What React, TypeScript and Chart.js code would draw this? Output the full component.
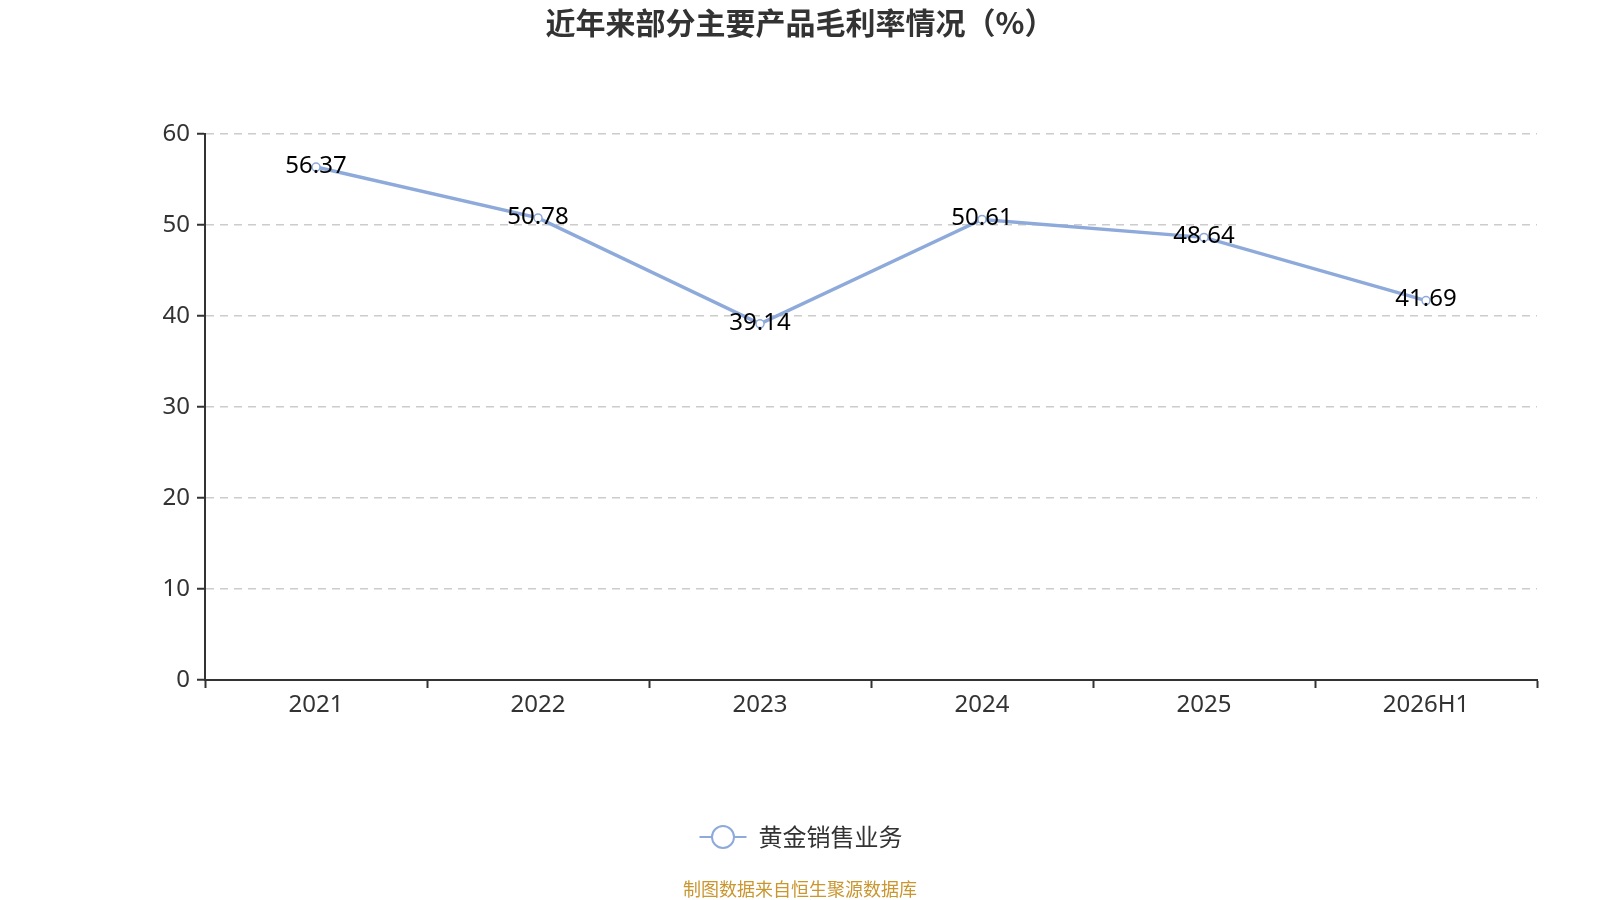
import { useRef, useEffect } from "react";
import { Chart, Plugin } from "chart.js/auto";


const years = ["2021", "2022", "2023", "2024", "2025", "2026H1"];
const goldSales = [56.37, 50.78, 39.14, 50.61, 48.64, 41.69];
const seriesName = "黄金销售业务";
const titleText = "近年来部分主要产品毛利率情况（%）";
const sourceText = "制图数据来自恒生聚源数据库";

const LINE_COLOR = "#8eaadb";
const TEXT_COLOR = "#333333";
const FONT = "'Noto Sans', 'Noto Sans CJK SC', sans-serif";
const CJK_FONT = "'Noto Sans CJK SC', 'Noto Sans', sans-serif";


// value labels centred on each point
const valueLabels: Plugin<"line"> = {
  id: "valueLabels",
  afterDatasetsDraw(chart) {
    const { ctx } = chart;
    const meta = chart.getDatasetMeta(0);
    const data = chart.data.datasets[0].data as number[];
    ctx.save();
    ctx.font = `24px ${FONT}`;
    ctx.fillStyle = "#000";
    ctx.textAlign = "center";
    ctx.textBaseline = "middle";
    meta.data.forEach((pt, i) => {
      ctx.fillText(data[i].toFixed(2), pt.x, pt.y - 1);
    });
    ctx.restore();
  }
};

// title, legend and source line
const decorations: Plugin<"line"> = {
  id: "decorations",
  afterDraw(chart) {
    const { ctx, width } = chart;
    const cx = width / 2;
    ctx.save();

    ctx.font = `bold 30px ${CJK_FONT}`;
    ctx.fillStyle = TEXT_COLOR;
    ctx.textAlign = "center";
    ctx.textBaseline = "middle";
    ctx.fillText(titleText, cx, 23);

    // legend
    const label = chart.data.datasets[0].label ?? "";
    ctx.font = `24px ${CJK_FONT}`;
    const textW = ctx.measureText(label).width;
    const iconW = 47;
    const gap = 12;
    const start = cx + 1 - (iconW + gap + textW) / 2;
    const ly = 837;
    ctx.strokeStyle = LINE_COLOR;
    ctx.lineWidth = 2;
    ctx.beginPath();
    ctx.moveTo(start, ly);
    ctx.lineTo(start + iconW, ly);
    ctx.stroke();
    ctx.beginPath();
    ctx.arc(start + iconW / 2, ly, 11, 0, Math.PI * 2);
    ctx.fillStyle = "#fff";
    ctx.fill();
    ctx.stroke();
    ctx.fillStyle = TEXT_COLOR;
    ctx.textAlign = "left";
    ctx.fillText(label, start + iconW + gap, ly);

    ctx.font = `18px ${CJK_FONT}`;
    ctx.fillStyle = "#c9962f";
    ctx.textAlign = "center";
    ctx.fillText(sourceText, cx, 889);

    ctx.restore();
  }
};


function GrossMarginChart() {
  const chartRef = useRef<HTMLCanvasElement>(null);

  useEffect(() => {
    if (!chartRef.current) return;

    const chart = new Chart(chartRef.current, {
      type: "line",
      data: {
        labels: years,
        datasets: [{
          label: seriesName,
          data: goldSales,
          borderColor: LINE_COLOR,
          borderWidth: 3.5,
          tension: 0,
          pointRadius: 4,
          pointBackgroundColor: "#fff",
          pointBorderColor: LINE_COLOR,
          pointBorderWidth: 1.5
        }]
      },
      options: {
        animation: false,
        responsive: false,
        layout: {
          padding: { left: 135, right: 63, top: 134, bottom: 160 }
        },
        plugins: {
          legend: { display: false },
          title: { display: false },
          tooltip: { enabled: false }
        },
        scales: {
          x: {
            type: "category",
            offset: true,
            afterFit: (scale) => { scale.height = 60; },
            grid: {
              offset: true,
              drawOnChartArea: false,
              drawTicks: true,
              tickLength: 8,
              tickColor: TEXT_COLOR,
              tickWidth: 2
            },
            border: { color: TEXT_COLOR, width: 2 },
            ticks: {
              color: TEXT_COLOR,
              font: { size: 24, family: FONT },
              padding: 3,
              maxRotation: 0
            }
          },
          y: {
            min: 0,
            max: 60,
            afterFit: (scale) => { scale.width = 70; },
            grid: {
              color: "#cccccc",
              lineWidth: 1.5,
              tickLength: 8,
              tickColor: TEXT_COLOR,
              tickWidth: 2
            },
            border: { color: TEXT_COLOR, width: 2, dash: [8, 6] },
            ticks: {
              stepSize: 10,
              color: TEXT_COLOR,
              font: { size: 24, family: FONT },
              padding: 7
            }
          }
        }
      },
      plugins: [valueLabels, decorations]
    });

    return () => chart.destroy();
  }, []);

  return (
    <div style={{ position: "absolute", left: 0, top: 0, width: 1600, height: 900, background: "#fff" }}>
      <canvas ref={chartRef} width={1600} height={900}></canvas>
    </div>
  );
}


export default function App() {
  return <GrossMarginChart />;
}
